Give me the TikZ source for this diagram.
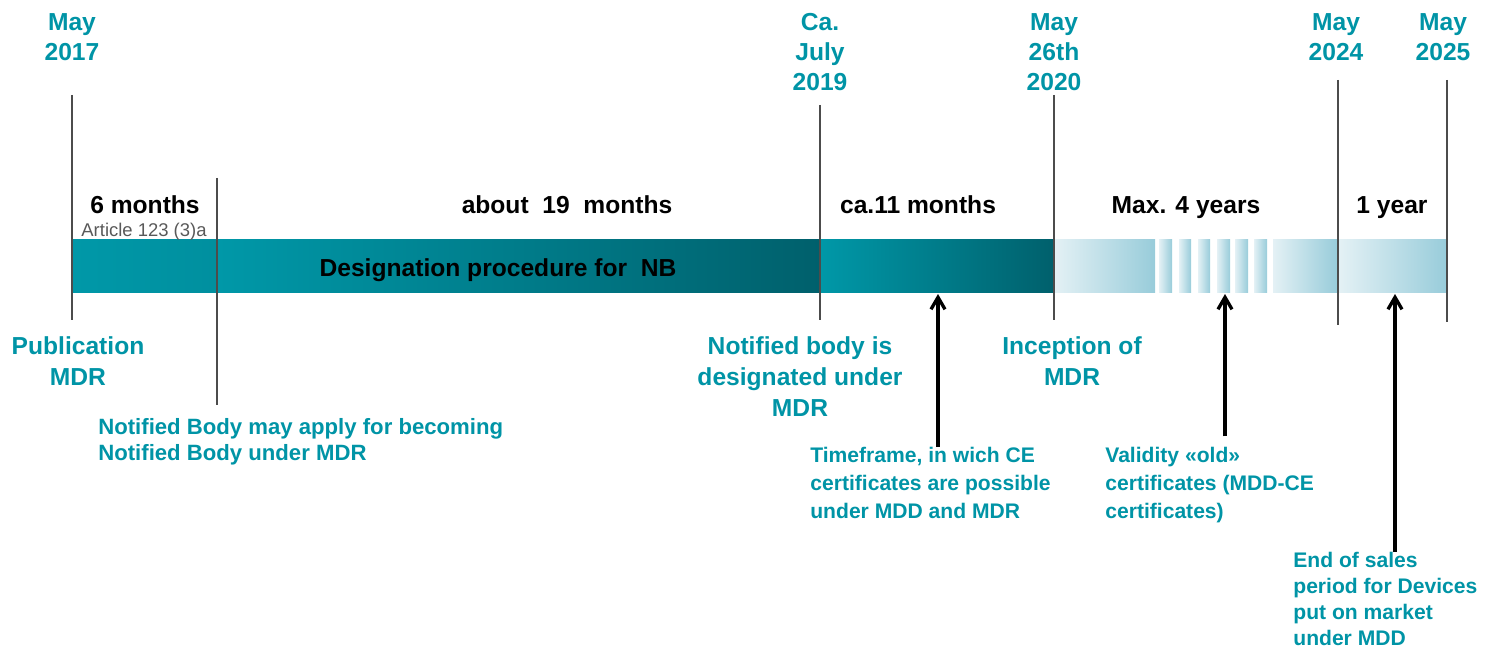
\documentclass[tikz,border=0pt]{standalone}
\usepackage{fontspec}
\setmainfont{Liberation Sans}
\usetikzlibrary{arrows.meta}

\definecolor{mdrteal}{RGB}{0,148,166}
\definecolor{barlight}{RGB}{0,152,168}
\definecolor{bardark}{RGB}{0,96,108}
\definecolor{palelo}{RGB}{228,241,245}
\definecolor{palehi}{RGB}{152,204,218}

\begin{document}
\begin{tikzpicture}[
  x=0.2mm, y=-0.2mm,
  every node/.style={font=\bfseries},
  datelbl/.style={align=center, anchor=north, inner sep=0pt, text=mdrteal, font=\bfseries\fontsize{14}{17}\selectfont},
  eventlbl/.style={align=center, anchor=north, inner sep=0pt, text=mdrteal, font=\bfseries\fontsize{14}{17.8}\selectfont},
  notelbl/.style={align=left, anchor=north west, inner sep=0pt, text=mdrteal, font=\bfseries\fontsize{12}{15.8}\selectfont},
  spanlbl/.style={anchor=base, font=\bfseries\fontsize{14}{17}\selectfont},
  dateline/.style={draw=black!70, line width=0.6pt},
  arrow/.style={-{Straight Barb[length=2.4mm, width=2.8mm]}, line width=1.9pt},
  darkseg/.style={left color=barlight, right color=bardark},
  paleseg/.style={left color=palelo, right color=palehi}
]
\useasboundingbox (0,0) rectangle (1490,652);

% bar
\shade[left color=barlight, right color=barlight!85!bardark] (72,240) rectangle (217,292);
\shade[darkseg] (217,240) rectangle (820,292);
\shade[darkseg] (820,240) rectangle (1054,292);
\shade[paleseg] (1054,240) rectangle (1155,292);
\foreach \a/\b in {1159/1172,1179/1191,1198/1210,1217/1230,1235/1248,1254/1267}
  \shade[paleseg] (\a,240) rectangle (\b,292);
\shade[paleseg] (1273,240) rectangle (1337,292);
\shade[paleseg] (1339,240) rectangle (1447,292);

% date lines
\foreach \x/\t/\b in {72/95/320, 217/178/405, 820/105/320, 1054/95/320, 1338/80/325, 1447/80/322}
  \draw[dateline] (\x,\t) -- (\x,\b);

% dates
\node[datelbl] (may17) at (72,13) {May\\2017};
\node[datelbl] (jul19) at (820,13) {Ca.\\July\\2019};
\node[datelbl] (may20) at (1054,13) {May\\26th\\2020};
\node[datelbl] (may24) at (1336,13) {May\\2024};
\node[datelbl] (may25) at (1443,13) {May\\2025};

% spans
\node[spanlbl] (sixm) at (145,214) {6 months};
\node[anchor=base, text=black!65, font=\fontsize{10.5}{12}\selectfont] (article) at (144,236) {Article 123 (3)a};
\node[spanlbl] (ninetm) at (567,214) {about~~19~~months};
\node[spanlbl] (elevm) at (918,214) {ca.11 months};
\node[spanlbl] (foury) at (1186,214) {Max. 4 years};
\node[spanlbl] (oney) at (1392,214) {1 year};
\node[spanlbl] (desig) at (498,276) {Designation procedure for~~NB};

% events
\node[eventlbl] (publ) at (78,336) {Publication\\MDR};
\node[eventlbl] (nbdes) at (800,336) {Notified body is\\designated under\\MDR};
\node[eventlbl] (incep) at (1072,336) {Inception of\\MDR};
\node[notelbl, font=\bfseries\fontsize{12.6}{14.8}\selectfont] (nbapply) at (98,418) {Notified Body may apply for becoming\\Notified Body under MDR};

% notes with arrows
\node[notelbl] (ceNote) at (810,447) {Timeframe, in wich CE\\certificates are possible\\under MDD and MDR};
\node[notelbl] (oldNote) at (1105,447) {Validity «old»\\certificates (MDD-CE\\certificates)};
\node[notelbl, font=\bfseries\fontsize{12}{14.8}\selectfont] (salesNote) at (1293,552) {End of sales\\period for Devices\\put on market\\under MDD};

\coordinate (ceTip) at (938,294);
\coordinate (oldTip) at (1225,294);
\coordinate (salesTip) at (1395,294);

\draw[arrow] (ceNote.north -| ceTip) -- (ceTip);
\draw[arrow] ([yshift=6pt]oldNote.north -| oldTip) -- (oldTip);
\draw[arrow] (salesNote.north -| salesTip) -- (salesTip);

\end{tikzpicture}
\end{document}
